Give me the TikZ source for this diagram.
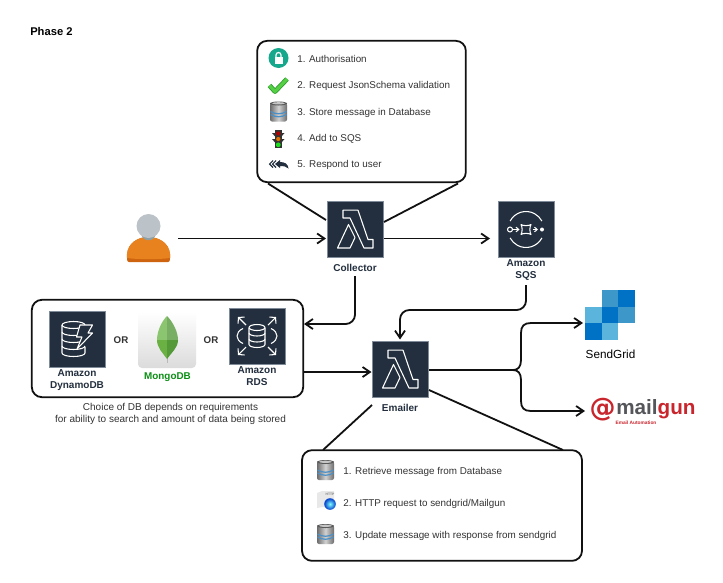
\documentclass[tikz,border=0pt]{standalone}
\usepackage{fontspec}
\setmainfont{Liberation Sans}
\newfontfamily\atfont{DejaVu Sans}
\usetikzlibrary{arrows.meta,calc,positioning,shadings}
\definecolor{awsnavy}{HTML}{232F3E}
\definecolor{awsedge}{HTML}{7F8B99}
\definecolor{bodytext}{HTML}{333333}
\definecolor{lineblack}{HTML}{111111}
\definecolor{mongogreen}{HTML}{0A8F14}
\definecolor{sgdark}{HTML}{0072C6}
\definecolor{sgmid}{HTML}{3D98C9}
\definecolor{sglight}{HTML}{5AB4DB}
\definecolor{mailred}{HTML}{C9252D}
\definecolor{mailgray}{HTML}{55565A}
\definecolor{personorange}{HTML}{E8821E}
\definecolor{persondark}{HTML}{CF6410}
\definecolor{persongray}{HTML}{BCC3C8}
\definecolor{personneck}{HTML}{8FA0A5}
\definecolor{dbblue}{HTML}{4A90C8}
\definecolor{lockteal}{HTML}{16A88C}
\definecolor{checkgreen}{HTML}{55D044}
\definecolor{checkdark}{HTML}{2E9E2E}
\definecolor{leafa}{HTML}{8CC56F}
\definecolor{leafb}{HTML}{77AE63}
\definecolor{leafc}{HTML}{6BB043}
\definecolor{leafd}{HTML}{549A39}
\tikzset{
  flow/.style={lineblack, -{Straight Barb[length=5.5pt,width=7.5pt]}, line width=1.35pt},
  callout/.style={lineblack, line width=1.35pt},
  panel/.style={draw=lineblack, line width=1.35pt, rounded corners=7.5pt, fill=white, inner sep=0pt},
  awsbox/.style={draw=awsedge, line width=0.3pt, fill=awsnavy, minimum size=42pt, inner sep=0pt},
  awslabel/.style={font=\bfseries\fontsize{7.5}{9}\selectfont, text=awsnavy, align=center, inner sep=0pt},
  steptext/.style={font=\fontsize{7.4}{8}\selectfont, text=bodytext, anchor=west, inner sep=0pt, text height=5.2pt, text depth=0pt},
  ortext/.style={font=\bfseries\fontsize{7.3}{8}\selectfont, text=bodytext, inner sep=0pt},
  iconline/.style={white, line width=0.8pt, line join=round},
  lambdaicon/.pic={
    \draw[iconline] (-12,-19.3)--(3,-19.3)--(13,10)--(18,10)--(18,18.5)--(9,18.5)--(-5,-11.5)--(-12,-11.5)--cycle;
    \draw[iconline] (-17.5,18.5)--(-6.5,-5)--(0,8)--(-5,18.5)--cycle;
  },
  dbicon/.pic={
    \shade[left color=gray!85!black, right color=gray!85!black, middle color=gray!35, rounded corners=1.5pt] (-8.5,-8.5) rectangle (8.5,10);
    \fill[gray!70!black] (0,-8) ellipse (8.5 and 2);
    \fill[gray!45] (0,-8.2) ellipse (6.5 and 1.1);
    \draw[dbblue, line width=0.9pt] (-8,0) .. controls (-3,3) and (3,3) .. (8,0);
    \draw[dbblue, line width=0.9pt] (-8,3) .. controls (-3,6) and (3,6) .. (8,3);
  },
}
\begin{document}
\begin{tikzpicture}[x=0.75pt,y=-0.75pt]
  \useasboundingbox[fill=white] (0,0) rectangle (723,582);
  \node[font=\bfseries\fontsize{8.4}{10}\selectfont, anchor=west, inner sep=0pt] (phase) at (30,31) {Phase 2};

  % panels
  \node[panel, minimum width=156.5pt, minimum height=106pt] (topbox) at (361.5,111.5) {};
  \node[panel, minimum width=203.5pt, minimum height=73pt] (dbbox) at (167.5,348.5) {};
  \node[panel, minimum width=210pt, minimum height=83pt] (bottombox) at (442,505.5) {};

  % aws services
  \node[awsbox] (collector) at (355,229.5) {};
  \node[awsbox] (sqs) at (526,229.5) {};
  \node[awsbox] (emailer) at (400,369.5) {};
  \node[awsbox] (dynamo) at (77,339.5) {};
  \node[awsbox] (rds) at (257,336) {};
  \pic at (355,229.5) {lambdaicon};
  \pic at (400,369.5) {lambdaicon};
  \node[awslabel] (collectorlabel) at (355,267.5) {Collector};
  \node[awslabel] (sqslabel) at (526,270) {Amazon\\SQS};
  \node[awslabel] (emailerlabel) at (400,407.5) {Emailer};
  \node[awslabel] (dynamolabel) at (77,380) {Amazon\\DynamoDB};
  \node[awslabel] (rdslabel) at (257,376.5) {Amazon\\RDS};
  \node[ortext] (orone) at (121,340) {OR};
  \node[ortext] (ortwo) at (211,340) {OR};

  % sqs icon
  \draw[iconline] (526,229.5) ++(28:18) arc (28:152:18);
  \draw[iconline] (526,229.5) ++(208:18) arc (208:332:18);
  \draw[iconline] (510,229.5) circle (2.5);
  \draw[iconline] (521,224.5) .. controls (523,226) and (529,226) .. (531,224.5) .. controls (529.5,227) and (529.5,232) .. (531,234.5) .. controls (529,233) and (523,233) .. (521,234.5) .. controls (522.5,232) and (522.5,227) .. (521,224.5) -- cycle;
  \draw[iconline, -{Straight Barb[length=2pt,width=3.5pt]}] (513,229.5)--(519.5,229.5);
  \draw[iconline, -{Straight Barb[length=2pt,width=3.5pt]}] (532.5,229.5)--(538,229.5);
  \fill[white] (542,229.5) circle (2);

  % dynamo icon
  \draw[iconline] (73.5,325) ellipse (11.5 and 3.5);
  \draw[iconline] (62,325)--(62,353) arc (180:0:11.5 and 3.5)--(85,347);
  \foreach \y in {332,339,346}{
    \draw[iconline] (62,\y) arc (180:0:11.5 and 3.5);
  }
  \draw[iconline, fill=awsnavy] (80,325)--(92.5,325)--(88,333)--(92.5,333)--(77,349)--(82,337)--(76.5,337)--cycle;

  % rds icon
  \draw[iconline] (257,327.5) ellipse (8 and 3);
  \draw[iconline] (249,327.5)--(249,344.5) arc (180:0:8 and 3)--(265,327.5);
  \draw[iconline] (249,333) arc (180:0:8 and 3);
  \draw[iconline] (249,339) arc (180:0:8 and 3);
  \draw[iconline] (243,328.5) .. controls (235,332) and (235,340) .. (243,343.5);
  \draw[iconline] (271,328.5) .. controls (279,332) and (279,340) .. (271,343.5);
  \foreach \sx/\sy in {-1/-1,1/-1,-1/1,1/1}{
    \draw[iconline, -{Straight Barb[length=3pt,width=7pt]}] (257+\sx*11,336+\sy*11)--(257+\sx*19,336+\sy*19);
  }

  % mongodb tile
  \shade[top color=white, bottom color=gray!28, rounded corners=3pt] (138,312) rectangle (196,368);
  \fill[gray!55] (166.5,355) rectangle (167.5,363);
  \fill[leafa] (167,316) .. controls (161,322) and (157,332) .. (157,340) -- (167,340) -- cycle;
  \fill[leafb] (167,316) .. controls (173,322) and (178,332) .. (178,340) -- (167,340) -- cycle;
  \fill[leafc] (157,340) .. controls (157,348) and (163,353) .. (167,359) -- (167,340) -- cycle;
  \fill[leafd] (178,340) .. controls (178,348) and (171,353) .. (167,359) -- (167,340) -- cycle;
  \node[font=\bfseries\fontsize{7.4}{8}\selectfont, text=mongogreen, inner sep=0pt] (mongolabel) at (167.5,377) {MongoDB};

  \node[font=\fontsize{7.5}{9.2}\selectfont, text=bodytext, align=center, inner sep=0pt] (dbnote) at (170.5,414) {Choice of DB depends on requirements\\for ability to search and amount of data being stored};

  % person
  \node[minimum width=32pt, minimum height=37pt, inner sep=0pt] (person) at (148.5,238) {};
  \fill[persondark] (129,262) .. controls (126.5,262) and (127,258) .. (127,254) .. controls (128,243) and (138,237) .. (148,237) .. controls (159,237) and (169,243) .. (170,254) .. controls (170,258) and (170.5,262) .. (168,262) -- cycle;
  \fill[personorange] (127,258) -- (127,254) .. controls (128,243) and (138,237) .. (148,237) .. controls (159,237) and (169,243) .. (170,254) -- (170,258) .. controls (160,259.5) and (137,259.5) .. (127,258) -- cycle;
  \fill[personneck] (141,232) .. controls (141,243) and (156,243) .. (156,232) -- cycle;
  \fill[persongray] (148.5,226) circle (12);

  % sendgrid
  \node[inner sep=0pt, minimum size=37.5pt] (sendgrid) at (610,315) {};
  \fill[sgmid] (601.67,290) rectangle (618.33,306.67);
  \fill[sgdark] (618.33,290) rectangle (635,306.67);
  \fill[sglight] (585,306.67) rectangle (601.67,323.33);
  \fill[sgdark] (601.67,306.67) rectangle (618.33,323.33);
  \fill[sgmid] (618.33,306.67) rectangle (635,323.33);
  \fill[sgdark] (585,323.33) rectangle (601.67,340);
  \fill[sglight] (601.67,323.33) rectangle (618.33,340);
  \node[font=\fontsize{8.8}{10}\selectfont, text=black, inner sep=0pt] (sendgridlabel) at (610.5,354.5) {SendGrid};

  % mailgun
  \node[font=\atfont\bfseries\fontsize{19.5}{20}\selectfont, text=mailred, inner sep=0pt] (mailat) at (602.5,410) {@};
  \node[font=\bfseries\fontsize{15.5}{16}\selectfont, inner sep=0pt, anchor=west, text height=8pt, text depth=0pt] (mailword) at (616,409) {\textcolor{mailgray}{mail}\textcolor{mailred}{gun}};
  \node[font=\bfseries\fontsize{3.6}{4}\selectfont, text=mailred, inner sep=0pt] (mailsub) at (636,423) {Email Automation};

  % connectors
  \coordinate (dbin) at (304,324);
  \coordinate (dbout) at (303,372);
  \coordinate (emailerin) at (371.5,372);
  \coordinate (sendin) at (583,323);
  \coordinate (mailin) at (585,411);
  \coordinate (sqsout) at (526,285);
  \coordinate (emailertop) at (400,339.5);
  \coordinate (personout) at (178,238.5);
  \coordinate (collectorin) at (326,238.5);
  \coordinate (collectorout) at (384,238.5);
  \coordinate (sqsin) at (490,238.5);
  \coordinate (collectorbelow) at (355,276);
  \coordinate (emailerout) at (429,370);

  \draw[flow] (personout) -- (collectorin);
  \draw[flow] (collectorout) -- (sqsin);
  \draw[flow, rounded corners=7pt] (collectorbelow) |- (dbin);
  \draw[flow, rounded corners=7pt] (sqsout) |- (400,310) -- (emailertop);
  \draw[flow] (dbout) -- (emailerin);
  \draw[flow] (emailerout) -- (513,370) .. controls (518,370) and (521,367) .. (521,360) -- (521,333) .. controls (521,326) and (524,323) .. (531,323) -- (sendin);
  \draw[flow] (emailerout) -- (513,370) .. controls (518,370) and (521,373) .. (521,380) -- (521,401) .. controls (521,408) and (524,411) .. (531,411) -- (mailin);

  \coordinate (topleft) at (268,183.5);
  \coordinate (topright) at (458,183.5);
  \coordinate (bottomleft) at (323,450);
  \coordinate (bottomright) at (563,450);
  \draw[callout] (topleft) -- (326,220);
  \draw[callout] (topright) -- (384,222);
  \draw[callout] (bottomleft) -- (372,405);
  \draw[callout] (bottomright) -- (429,390);

  % top box steps
  \node[steptext] (stepone) at (297,59.5) {1. Authorisation};
  \node[steptext] (steptwo) at (297,85.5) {2. Request JsonSchema validation};
  \node[steptext] (stepthree) at (297,112.5) {3. Store message in Database};
  \node[steptext] (stepfour) at (297,138.5) {4. Add to SQS};
  \node[steptext] (stepfive) at (297,164) {5. Respond to user};

  % lock
  \fill[lockteal] (278.5,58) circle (10);
  \fill[white] (274.5,57) rectangle (282.5,63.5);
  \draw[white, line width=0.9pt] (276,57) -- (276,55) arc (180:360:2.5) -- (281,57);
  % check
  \draw[checkdark, line width=3.6pt, line join=round] (269.5,85.5) -- (275,91.5) -- (287,79);
  \draw[checkgreen, line width=2.3pt, line join=round] (269.5,85.5) -- (275,91.5) -- (287,79);
  \pic at (278.5,111.5) {dbicon};
  % traffic light
  \fill[black!80] (275,130) rectangle (281.5,148);
  \fill[black!80] (272,133) -- (275,133) -- (275,136.5) -- cycle;
  \fill[black!80] (284.5,133) -- (281.5,133) -- (281.5,136.5) -- cycle;
  \fill[black!80] (272,139) -- (275,139) -- (275,142.5) -- cycle;
  \fill[black!80] (284.5,139) -- (281.5,139) -- (281.5,142.5) -- cycle;
  \fill[red!70!black] (278.25,133.5) circle (2.1);
  \fill[orange!90!black] (278.25,139) circle (2.1);
  \fill[green!75!gray] (278.25,144.8) circle (2.4);
  % reply arrows
  \draw[awsnavy, line width=0.8pt] (273,160.5) -- (269.5,164) -- (273,167.5);
  \draw[awsnavy, line width=0.8pt] (276,160.5) -- (272.5,164) -- (276,167.5);
  \fill[awsnavy] (275,164) -- (280,160) -- (280,162) .. controls (285,162) and (288,164) .. (288.5,168.5) .. controls (286,166.5) and (284,166) .. (280,166) -- (280,168) -- cycle;

  % bottom box steps
  \node[steptext] (retrieve) at (343,471.5) {1. Retrieve message from Database};
  \node[steptext] (request) at (343,503.5) {2. HTTP request to sendgrid/Mailgun};
  \node[steptext] (update) at (343,535.5) {3. Update message with response from sendgrid};

  \pic at (325.5,470) {dbicon};
  \pic at (325.5,534) {dbicon};
  % http page
  \fill[gray!18] (317,493) -- (322,491) -- (334,491) -- (334,505) -- (317,508) -- cycle;
  \node[font=\bfseries\fontsize{2.5}{3}\selectfont, text=gray, inner sep=0pt] (httptag) at (330,494) {HTTP};
  \shade[inner color=cyan!50!white, outer color=blue!70!cyan!80!black] (330,504) circle (5.8);
\end{tikzpicture}
\end{document}
